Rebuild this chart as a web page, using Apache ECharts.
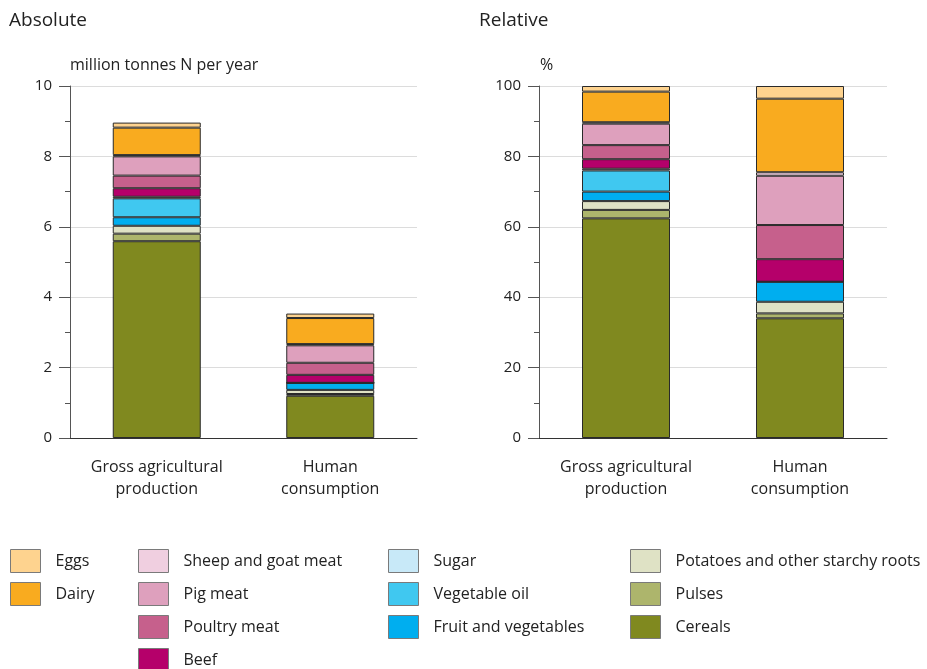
<!DOCTYPE html>
<html>
<head>
<meta charset="utf-8">
<script src="https://cdn.jsdelivr.net/npm/echarts@6/dist/echarts.min.js"></script>
<style>
html,body{margin:0;padding:0;background:#fff;}
#chart{width:927px;height:669px;}
</style>
</head>
<body>
<div id="chart"></div>
<script>
// Categories
const categories = ['Gross agricultural\nproduction', 'Human\nconsumption'];
const seriesNames = ['Cereals', 'Pulses', 'Potatoes and other starchy roots', 'Fruit and vegetables',
  'Vegetable oil', 'Sugar', 'Beef', 'Poultry meat', 'Pig meat', 'Sheep and goat meat', 'Dairy', 'Eggs'];

// Absolute values (million tonnes N per year): [gross, human]
const cereals  = [5.59, 1.20];
const pulses   = [0.215, 0.05];
const potatoes = [0.224, 0.117];
const fruitVeg = [0.242, 0.20];
const vegOil   = [0.538, 0];
const sugar    = [0.045, 0];
const beef     = [0.242, 0.227];
const poultry  = [0.358, 0.343];
const pig      = [0.547, 0.496];
const sheep    = [0.036, 0.035];
const dairy    = [0.78, 0.74];
const eggs     = [0.143, 0.127];

// Relative values (%): [gross, human]
const cerealsPct  = [62.4, 34.0];
const pulsesPct   = [2.4, 1.4];
const potatoesPct = [2.5, 3.3];
const fruitVegPct = [2.7, 5.7];
const vegOilPct   = [6.0, 0];
const sugarPct    = [0.5, 0];
const beefPct     = [2.7, 6.4];
const poultryPct  = [4.0, 9.7];
const pigPct      = [6.1, 14.0];
const sheepPct    = [0.4, 1.0];
const dairyPct    = [8.7, 20.9];
const eggsPct     = [1.6, 3.6];

const absData = [cereals, pulses, potatoes, fruitVeg, vegOil, sugar, beef, poultry, pig, sheep, dairy, eggs];
const relData = [cerealsPct, pulsesPct, potatoesPct, fruitVegPct, vegOilPct, sugarPct, beefPct, poultryPct, pigPct, sheepPct, dairyPct, eggsPct];

const colors = {
  'Cereals': '#80891f',
  'Pulses': '#adb56c',
  'Potatoes and other starchy roots': '#dfe2c5',
  'Fruit and vegetables': '#00aeef',
  'Vegetable oil': '#40c8f0',
  'Sugar': '#c8e9f8',
  'Beef': '#b5006a',
  'Poultry meat': '#c6608c',
  'Pig meat': '#dea0bd',
  'Sheep and goat meat': '#f0cfe0',
  'Dairy': '#f9ab1f',
  'Eggs': '#fed38f'
};

const FONT = 'Open Sans';
const chart = echarts.init(document.getElementById('chart'), null, {renderer: 'canvas'});

function yAxis(gridIndex, max, interval) {
  return {
    type: 'value', gridIndex: gridIndex, min: 0, max: max, interval: interval,
    axisLine: {show: true, lineStyle: {color: '#555', width: 1}},
    axisTick: {show: true, inside: false, length: 11, lineStyle: {color: '#555'}},
    minorTick: {show: true, splitNumber: 2, length: 5, lineStyle: {color: '#555'}},
    splitLine: {show: true, lineStyle: {color: '#dcdcdc', width: 1}},
    axisLabel: {color: '#222', fontFamily: FONT, fontSize: 15, margin: 18}
  };
}
function xAxis(gridIndex) {
  return {
    type: 'category', gridIndex: gridIndex, data: categories,
    axisLine: {show: true, lineStyle: {color: '#333', width: 1}},
    axisTick: {show: false},
    axisLabel: {color: '#222', fontFamily: FONT, fontSize: 16, lineHeight: 22, margin: 18}
  };
}

const series = [];
[absData, relData].forEach((dataSet, gi) => {
  seriesNames.forEach((name, i) => {
    series.push({
      name: name, type: 'bar', stack: 'g' + gi,
      xAxisIndex: gi, yAxisIndex: gi,
      barWidth: 88,
      data: dataSet[i],
      itemStyle: {color: colors[name], borderColor: '#2a2a2a', borderWidth: 1},
      emphasis: {disabled: true}
    });
  });
});

function legend(names, left) {
  return {
    orient: 'vertical', left: left, top: 549, height: 130, padding: 0,
    data: names, itemWidth: 30, itemHeight: 23, itemGap: 9,
    icon: 'rect',
    itemStyle: {borderColor: '#7a7a7a', borderWidth: 1},
    textStyle: {color: '#222', fontFamily: FONT, fontSize: 16, padding: [0, 0, 0, 10]},
    selectedMode: false
  };
}

chart.setOption({
  animation: false,
  backgroundColor: '#fff',
  textStyle: {fontFamily: FONT},
  title: [
    {text: 'Absolute', left: 4, top: 6, textStyle: {color: '#222', fontFamily: FONT, fontSize: 19, fontWeight: 'normal'}},
    {text: 'Relative', left: 474, top: 6, textStyle: {color: '#222', fontFamily: FONT, fontSize: 19, fontWeight: 'normal'}},
    {text: 'million tonnes N per year', left: 65, top: 52, textStyle: {color: '#222', fontFamily: FONT, fontSize: 16, fontWeight: 'normal'}},
    {text: '%', left: 535, top: 52, textStyle: {color: '#222', fontFamily: FONT, fontSize: 16, fontWeight: 'normal'}}
  ],
  grid: [
    {left: 70, right: 510, top: 86, bottom: 231},
    {left: 539, right: 40, top: 86, bottom: 231}
  ],
  xAxis: [xAxis(0), xAxis(1)],
  yAxis: [yAxis(0, 10, 2), yAxis(1, 100, 20)],
  legend: [
    legend(['Eggs', 'Dairy'], 10),
    legend(['Sheep and goat meat', 'Pig meat', 'Poultry meat', 'Beef'], 138),
    legend(['Sugar', 'Vegetable oil', 'Fruit and vegetables'], 388),
    legend(['Potatoes and other starchy roots', 'Pulses', 'Cereals'], 630)
  ],
  series: series
});
</script>
</body>
</html>
